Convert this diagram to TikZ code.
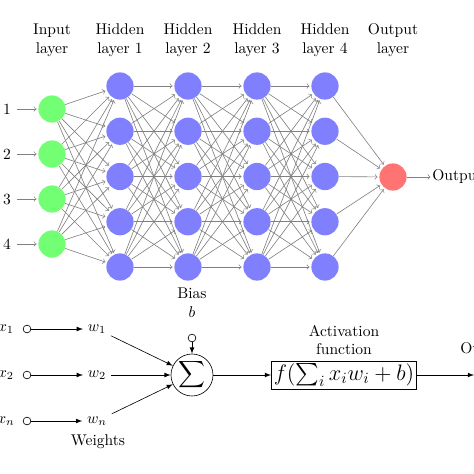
\documentclass[tikz,border=0pt]{standalone}
\usepackage{amsmath}
\usetikzlibrary{positioning}

\begin{document}
\begin{tikzpicture}[x=0.0226cm,y=-0.0226cm]
\tikzstyle{every node}+=[inner sep=0pt]
\tikzstyle{neuron}=[circle,minimum size=17.5pt]
\tikzstyle{input neuron}=[neuron,fill=green!55]
\tikzstyle{hidden neuron}=[neuron,fill=blue!50]
\tikzstyle{output neuron}=[neuron,fill=red!55]
\tikzstyle{syn}=[->,black!50,shorten >=1pt]
\tikzstyle{port}=[circle,draw,minimum size=5pt]
\tikzstyle{sig}=[-latex,black]
\useasboundingbox (0,0) rectangle (474,474);
% layer titles
\node [align=center] (t0) at (52,40) {Input\\layer};
\node [align=center] (t1) at (120,40) {Hidden\\layer 1};
\node [align=center] (t2) at (188,40) {Hidden\\layer 2};
\node [align=center] (t3) at (257,40) {Hidden\\layer 3};
\node [align=center] (t4) at (325,40) {Hidden\\layer 4};
\node [align=center] (t5) at (393,40) {Output\\layer};
% input layer
\foreach \n/\y in {1/109,2/154,3/199,4/244} {
  \node [input neuron] (i\n) at (52,\y) {};
  \node [inner sep=4pt] (l\n) at (7,\y) {$\n$};
  \draw [syn] (l\n) -- (i\n);
}
% hidden layers
\foreach \l/\x in {1/120,2/188,3/257,4/325}
  \foreach \n in {1,...,5}
    \node [hidden neuron] (h\l\n) at (\x,{86+45.25*(\n-1)}) {};
% output layer
\node [output neuron] (o) at (393,177) {};
\node [anchor=west] (out) at (432,177) {Output};
\draw [syn] (o) -- (out);
% synapses
\foreach \i in {1,...,4}
  \foreach \j in {1,...,5}
    \draw [syn] (i\i) -- (h1\j);
\foreach \l/\m in {1/2,2/3,3/4}
  \foreach \i in {1,...,5}
    \foreach \j in {1,...,5}
      \draw [syn] (h\l\i) -- (h\m\j);
\foreach \i in {1,...,5}
  \draw [syn] (h4\i) -- (o);
\node [align=center] (bias) at (192,303) {Bias\\$b$};
% single neuron
\foreach \n/\y in {1/329,2/375,n/421} {
  \node (x\n) at (6,\y) {$x_\n$};
  \node [port] (p\n) at (27,\y) {};
  \node [inner sep=3pt] (w\n) at (97,\y) {$w_\n$};
  \draw [sig] (p\n) -- (w\n);
}
\node (weights) at (98,442) {Weights};
\node [circle,draw,minimum size=27pt] (sum) at (192,375) {\large$\displaystyle\sum$};
\node [port] (pb) at (192,338) {};
\draw [sig] (pb) -- (sum);
\draw [sig] (w1) -- (sum);
\draw [sig] (w2) -- (sum);
\draw [sig] (wn) -- (sum);
\node [draw,inner sep=1.5pt] (act) at (344,375) {\Large$f(\sum_i x_iw_i+b)$};
\node [align=center] (actl) at (344,340) {Activation\\function};
\draw [sig] (sum) -- (act);
\coordinate (end) at (474,375);
\draw [sig] (act) -- (end);
\node [anchor=west] (outl) at (460,350) {Output};
\end{tikzpicture}
\end{document}
